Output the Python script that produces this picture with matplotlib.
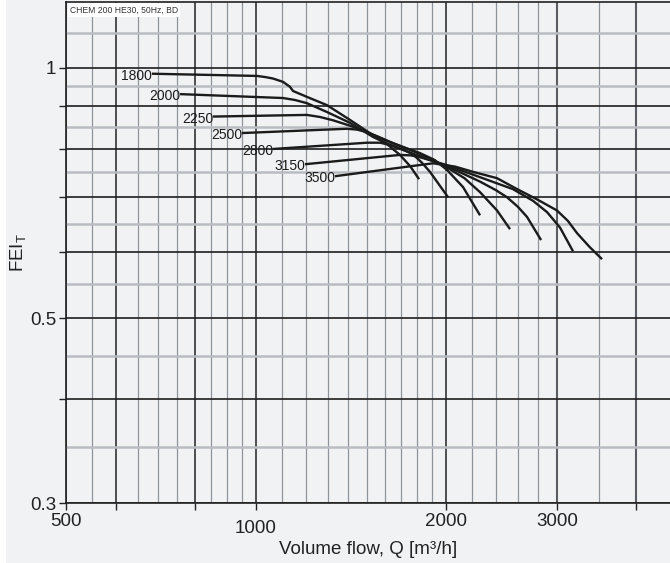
import matplotlib
matplotlib.use("Agg")
import matplotlib.pyplot as plt
from matplotlib.ticker import FixedLocator, FixedFormatter, NullFormatter
from matplotlib.patches import Rectangle

plt.rcParams["font.family"] = ["Liberation Sans", "DejaVu Sans"]

# fan speed curves: volume flow Q [m3/h] vs FEI_T
speeds = [1800, 2000, 2250, 2500, 2800, 3150, 3500]

q_1800 = [684, 1004, 1034, 1064, 1104, 1132, 1145, 1204, 1296, 1409, 1533, 1613, 1691, 1755, 1813]
fei_1800 = [0.984, 0.978, 0.975, 0.971, 0.962, 0.949, 0.938, 0.923, 0.902, 0.866, 0.830, 0.810, 0.786, 0.762, 0.735]

q_2000 = [758, 1104, 1153, 1204, 1296, 1409, 1533, 1631, 1720, 1774, 1830, 1887, 2016]
fei_2000 = [0.930, 0.920, 0.915, 0.907, 0.885, 0.859, 0.826, 0.808, 0.796, 0.787, 0.770, 0.750, 0.699]

q_2250 = [855, 1204, 1263, 1325, 1410, 1500, 1631, 1819, 1920, 2008, 2129, 2265]
fei_2250 = [0.874, 0.878, 0.873, 0.865, 0.852, 0.837, 0.814, 0.790, 0.775, 0.754, 0.719, 0.665]

q_2500 = [950, 1394, 1446, 1500, 1560, 1631, 1819, 2008, 2140, 2265, 2410, 2527]
fei_2500 = [0.835, 0.845, 0.843, 0.837, 0.827, 0.815, 0.788, 0.759, 0.737, 0.709, 0.674, 0.640]

q_2800 = [1064, 1500, 1573, 1640, 1755, 2008, 2265, 2400, 2500, 2600, 2689, 2830]
fei_2800 = [0.799, 0.813, 0.813, 0.807, 0.791, 0.762, 0.730, 0.713, 0.699, 0.681, 0.662, 0.621]

q_3150 = [1196, 1691, 1760, 1819, 2008, 2265, 2554, 2750, 2892, 3032, 3180]
fei_3150 = [0.766, 0.786, 0.785, 0.781, 0.764, 0.739, 0.715, 0.692, 0.671, 0.643, 0.602]

q_3500 = [1334, 1908, 2068, 2208, 2410, 2593, 2789, 2999, 3120, 3227, 3380, 3535]
fei_3500 = [0.741, 0.768, 0.761, 0.750, 0.737, 0.715, 0.695, 0.674, 0.655, 0.633, 0.609, 0.589]

curves = [(q_1800, fei_1800), (q_2000, fei_2000), (q_2250, fei_2250),
          (q_2500, fei_2500), (q_2800, fei_2800), (q_3150, fei_3150),
          (q_3500, fei_3500)]

# grid / ticks
x_major = [500, 600, 800, 1000, 2000, 3000, 4000]
x_minor = [550, 650, 700, 750, 850, 900, 950,
           1100, 1200, 1300, 1400, 1500, 1600, 1700, 1800, 1900,
           2200, 2400, 2600, 2800, 3500]
x_labels = ["500", "", "", "1000", "2000", "3000", ""]
y_major = [0.3, 0.4, 0.5, 0.6, 0.7, 0.8, 0.9, 1.0]
y_minor = [0.35, 0.45, 0.55, 0.65, 0.75, 0.85, 0.95, 1.1]
y_labels = ["0.3", "", "0.5", "", "", "", "", "1"]

bg = "#f1f2f4"
fig = plt.figure(figsize=(6.7, 5.63), dpi=100, facecolor=bg)
fig.patches.append(Rectangle((0, 0), 6 / 670, 1, transform=fig.transFigure,
                             facecolor="white", edgecolor="none", zorder=-1))
ax = fig.add_axes([66 / 670, 1 - 503 / 563, 604 / 670, 501 / 563])
ax.set_facecolor(bg)
ax.set_xscale("log")
ax.set_yscale("log")
ax.set_xlim(500, 4530)
ax.set_ylim(0.3, 1.2)

ax.xaxis.set_major_locator(FixedLocator(x_major))
ax.xaxis.set_minor_locator(FixedLocator(x_minor))
ax.xaxis.set_major_formatter(FixedFormatter(x_labels))
ax.xaxis.set_minor_formatter(NullFormatter())
ax.yaxis.set_major_locator(FixedLocator(y_major))
ax.yaxis.set_minor_locator(FixedLocator(y_minor))
ax.yaxis.set_major_formatter(FixedFormatter(y_labels))
ax.yaxis.set_minor_formatter(NullFormatter())

ax.tick_params(which="major", length=5, width=1, color="#222222",
               labelsize=13.5, labelcolor="#222222", pad=2)
ax.tick_params(which="minor", length=0)

ax.xaxis.grid(True, which="major", color="#222222", lw=1.1)
ax.xaxis.grid(True, which="minor", color="#8d949b", lw=0.9)
ax.yaxis.grid(True, which="major", color="#1e1e1e", lw=1.2)
ax.yaxis.grid(True, which="minor", color="#b9bdc2", lw=1.8)
ax.set_axisbelow(True)

xt = ax.xaxis.get_major_ticks()
for i in (5, 6):
    xt[i].gridline.set_color("#5a5d61")
    xt[i].gridline.set_linewidth(1.5)
xt[3].tick1line.set_markersize(10)
xt[3].set_pad(7)

for s in ("left", "bottom", "top"):
    ax.spines[s].set_color("#222222")
    ax.spines[s].set_linewidth(1.2)
ax.spines["right"].set_visible(False)

for spd, (q, fei) in zip(speeds, curves):
    ax.plot(q, fei, color="#1b1b1b", lw=1.7, solid_capstyle="butt",
            solid_joinstyle="round", zorder=3)
    ax.annotate(str(spd), (q[0], fei[0]), xytext=(0, -1.5),
                textcoords="offset points", ha="right", va="center",
                fontsize=10, color="#1b1b1b", zorder=4)

ax.text(0.006, 0.993, "CHEM 200 HE30, 50Hz, BD", transform=ax.transAxes,
        fontsize=6.2, color="#333333", ha="left", va="top",
        bbox=dict(facecolor="white", edgecolor="none", pad=1.5))

ax.set_xlabel("Volume flow, Q [m\u00b3/h]", fontsize=13.5, color="#222222", labelpad=3)
ax.set_ylabel("FEI$_\\mathregular{T}$", fontsize=13.5, color="#222222", labelpad=1)

fig.savefig("out.png", dpi=100, facecolor=bg)
